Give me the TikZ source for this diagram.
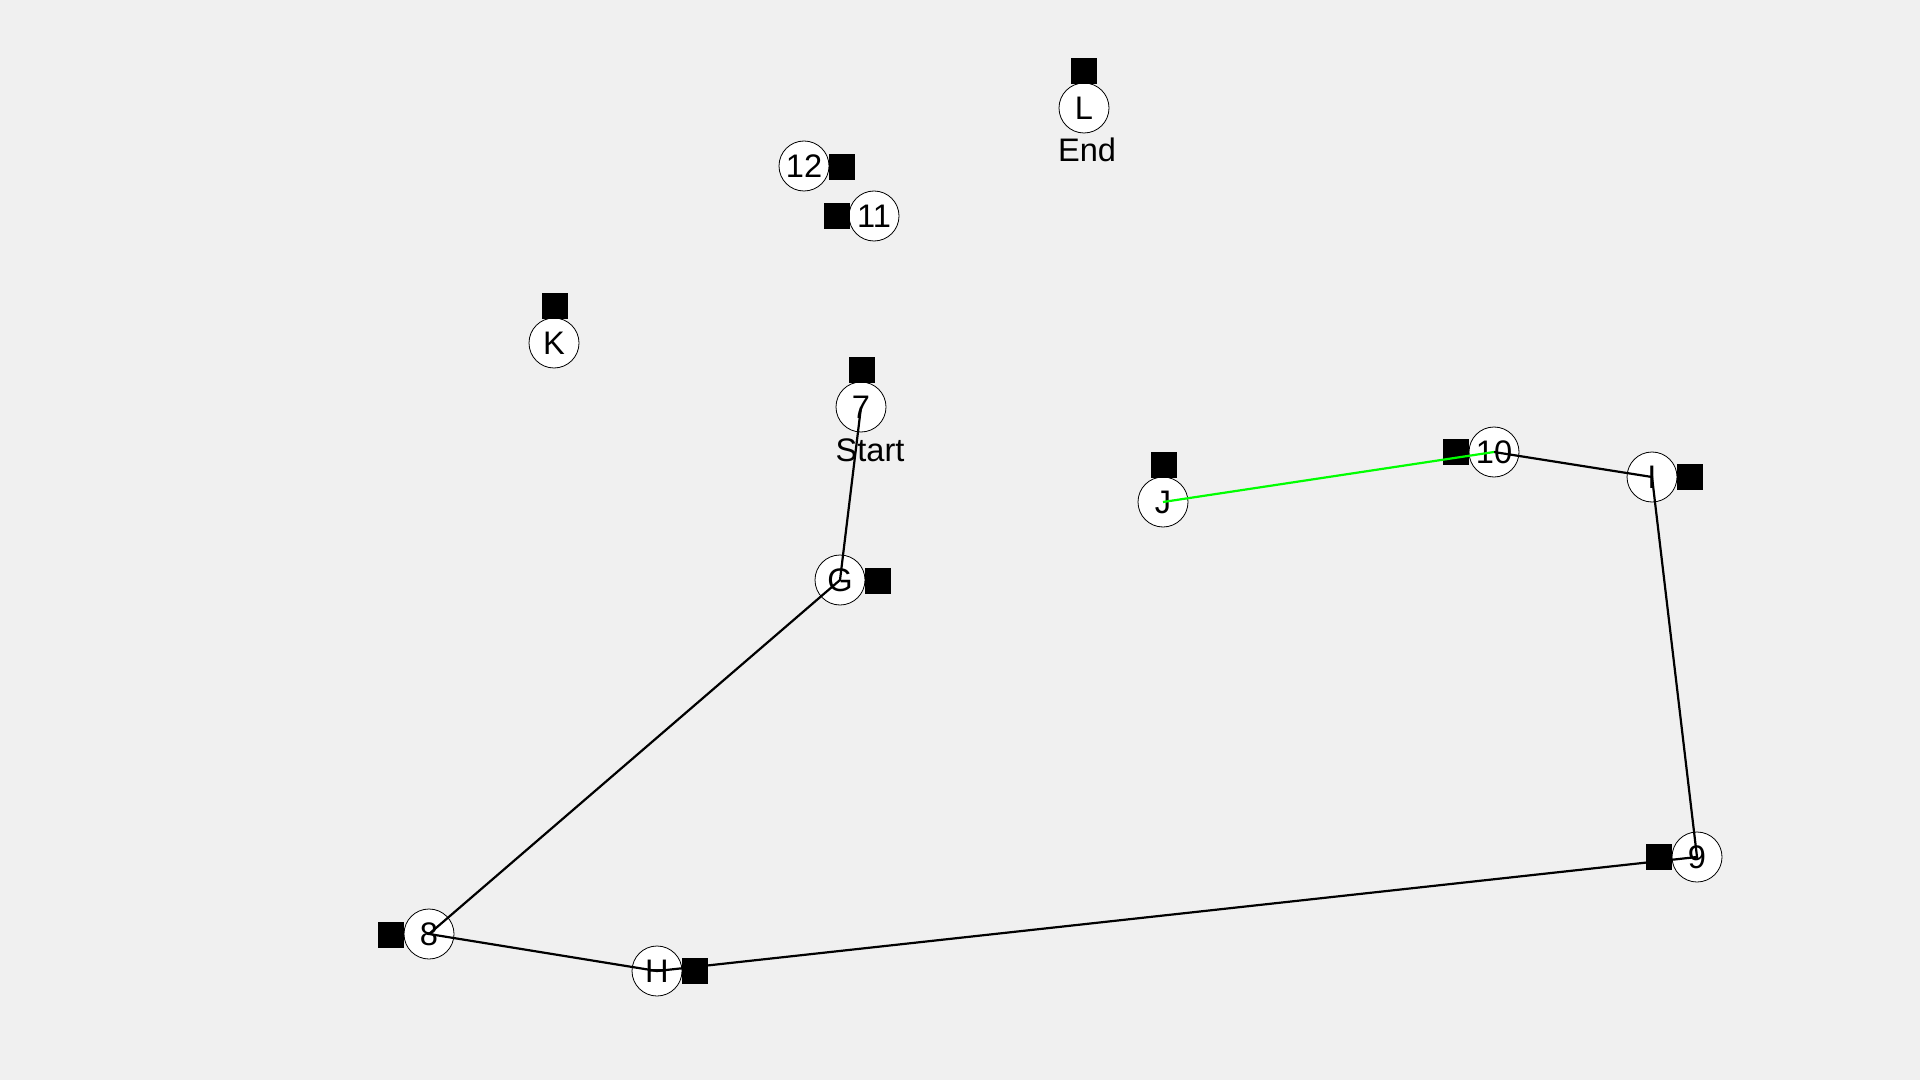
\documentclass[tikz,border=0pt]{standalone}
\usepackage{fontspec}
\setmainfont{Liberation Sans}
\usepackage{tikz}
\usetikzlibrary{positioning}
\usepackage{xcolor}
\definecolor{figbg}{HTML}{F0F0F0}
\definecolor{pathgreen}{HTML}{00FF00}

\begin{document}
\begin{tikzpicture}[x=0.5pt,y=-0.5pt,
		stop/.style={circle,draw=black,fill=white,line width=0.4pt,minimum size=25pt,inner sep=0pt,font=\fontsize{16.3}{18}\selectfont},
		box/.style={rectangle,fill=black,minimum size=13pt,inner sep=0pt},
		tag/.style={font=\fontsize{16.3}{18}\selectfont,anchor=base},
		route/.style={line width=1.1pt,black},
		lastleg/.style={line width=1.1pt,pathgreen}]
				\fill[figbg] (0,0) rectangle (1920,1080);
				% stops
				\node[stop] (nL) at (1084,108) {L};
				\node[stop] (n12) at (804,166) {12};
				\node[stop] (n11) at (874,216) {11};
				\node[stop] (nK) at (554,343) {K};
				\node[stop] (n7) at (861,407) {7};
				\node[stop] (nG) at (840,580) {G};
				\node[stop] (nJ) at (1163,502) {J};
				\node[stop] (n10) at (1494,452) {10};
				\node[stop] (nI) at (1652,477) {I};
				\node[stop] (n9) at (1697,857) {9};
				\node[stop] (n8) at (429,934) {8};
				\node[stop] (nH) at (657,971) {H};
				\node[tag] (tEnd) at (1087,162) {End};
				\node[tag] (tStart) at (870,461) {Start};
				% route
				\draw[route] (n7.center) -- (nG.center) -- (n8.center) -- (nH.center) -- (n9.center) -- (nI.center) -- (n10.center);
				% markers
				\node[box] (sL) at (1084,71) {};
				\node[box] (s12) at (842,167) {};
				\node[box] (s11) at (837,216) {};
				\node[box] (sK) at (555,306) {};
				\node[box] (s7) at (862,370) {};
				\node[box] (sG) at (878,581) {};
				\node[box] (sJ) at (1164,465) {};
				\node[box] (s10) at (1456,452) {};
				\node[box] (sI) at (1690,477) {};
				\node[box] (s9) at (1659,857) {};
				\node[box] (s8) at (391,935) {};
				\node[box] (sH) at (695,971) {};
				\draw[lastleg] (nJ.center) -- (n10.center);
			\end{tikzpicture}
\end{document}
